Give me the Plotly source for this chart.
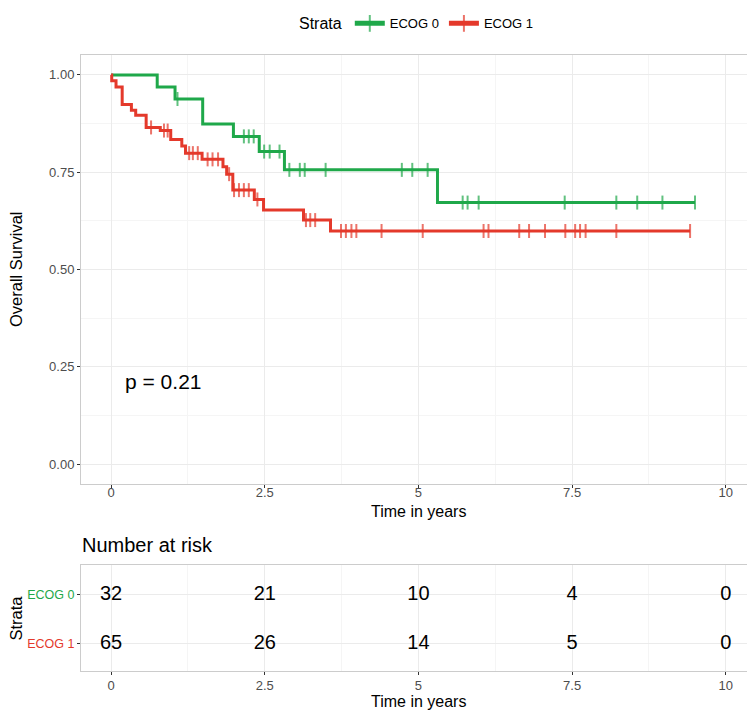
import plotly.graph_objects as go

# Kaplan-Meier curves (time in years, survival after the step)
ecog0_event_times = [0.75, 1.04, 1.49, 1.99, 2.41, 2.82, 5.31]
ecog0_event_surv = [0.969, 0.938, 0.874, 0.842, 0.803, 0.756, 0.672]
ecog0_censor_times = [1.08, 2.16, 2.24, 2.32, 2.49, 2.58, 2.74, 2.90, 3.07, 3.15, 3.49,
                      4.73, 4.90, 5.15, 5.72, 5.80, 5.98, 7.38, 8.22, 8.56, 8.97, 9.50]

ecog1_event_times = [0.01, 0.08, 0.18, 0.33, 0.40, 0.57, 0.80, 0.97, 1.15, 1.21, 1.48,
                     1.82, 1.88, 1.98, 2.33, 2.48, 3.13, 3.57]
ecog1_event_surv = [0.985, 0.969, 0.924, 0.909, 0.896, 0.865, 0.857, 0.834, 0.817, 0.799,
                    0.783, 0.764, 0.745, 0.704, 0.680, 0.653, 0.627, 0.599]
ecog1_censor_times = [0.65, 0.86, 0.92, 1.27, 1.33, 1.41, 1.57, 1.65, 1.74, 1.92, 2.00,
                      2.08, 2.16, 2.24, 2.38, 3.17, 3.24, 3.32, 3.74, 3.82, 3.91, 3.99,
                      4.40, 5.07, 6.06, 6.14, 6.64, 6.80, 7.06, 7.39, 7.55, 7.63, 7.72,
                      8.22, 9.42]

# number at risk table
risk_times = [0, 2.5, 5, 7.5, 10]
risk_ecog0 = [32, 21, 10, 4, 0]
risk_ecog1 = [65, 26, 14, 5, 0]

strata = ["ECOG 0", "ECOG 1"]
colors = ["#1FA84A", "#E4392B"]
p_text = "p = 0.21"

# the page has an 8px body margin, so the figure is drawn 8px in from the window corner
OFF = 8
W, H = 755 - OFF, 712 - OFF
FONT = "Liberation Sans"


def km_points(ev_t, ev_s, cens_t):
    pts = [(0.0, 0, 1.0)] + [(t, 0, s) for t, s in zip(ev_t, ev_s)] + [(t, 1, None) for t in cens_t]
    pts.sort(key=lambda p: (p[0], p[1]))
    xs, ys, sizes = [], [], []
    level = 1.0
    for t, cens, s in pts:
        if not cens:
            level = s
        xs.append(t)
        ys.append(level)
        sizes.append(10 if cens else 0)
    return xs, ys, sizes


def px_x(p):
    return (p - OFF) / W


def px_y(p):
    return 1 - (p - OFF) / H


fig = go.Figure()

curves = [(ecog0_event_times, ecog0_event_surv, ecog0_censor_times),
          (ecog1_event_times, ecog1_event_surv, ecog1_censor_times)]
for name, col, (et, es, ct) in zip(strata, colors, curves):
    xs, ys, sizes = km_points(et, es, ct)
    fig.add_trace(go.Scatter(
        x=xs, y=ys, name=name, mode="lines+markers",
        line=dict(color=col, width=3, shape="hv"),
        marker=dict(symbol="line-ns", size=sizes, color=col, line=dict(color=col, width=2)),
        hoverinfo="skip", xaxis="x", yaxis="y"))

# risk table numbers
for yv, counts in zip([2, 1], [risk_ecog0, risk_ecog1]):
    fig.add_trace(go.Scatter(
        x=risk_times, y=[yv] * len(risk_times), mode="text",
        text=[str(c) for c in counts], textposition="middle center",
        textfont=dict(size=20, color="black", family=FONT),
        showlegend=False, hoverinfo="skip", xaxis="x2", yaxis="y2"))

grid = "#EBEBEB"
minor_grid = "#F5F5F5"
border = "#CCCCCC"
tick_font = dict(size=13, color="#4D4D4D", family=FONT)
common = dict(showline=True, mirror=True, linecolor=border, linewidth=1,
              ticks="outside", ticklen=3, tickcolor="#333333", tickwidth=1,
              gridcolor=grid, gridwidth=1, zeroline=False, tickfont=tick_font,
              automargin=False)

x_dom = [px_x(81), px_x(754)]
x_range = [-0.49, 10.46]

fig.update_layout(
    width=W, height=H,
    margin=dict(l=0, r=0, t=0, b=0),
    paper_bgcolor="white", plot_bgcolor="white",
    font=dict(family=FONT, color="black"),
    xaxis=dict(domain=x_dom, range=x_range, tickvals=risk_times,
               ticktext=["0", "2.5", "5", "7.5", "10"], ticklabelstandoff=-6,
               minor=dict(dtick=1.25, tick0=0, showgrid=True, gridcolor=minor_grid, ticks=""),
               anchor="y", **common),
    yaxis=dict(domain=[px_y(480), px_y(45)], range=[-0.05, 1.05],
               tickvals=[0, 0.25, 0.5, 0.75, 1.0],
               ticktext=["0.00", "0.25", "0.50", "0.75", "1.00"],
               minor=dict(dtick=0.125, tick0=0, showgrid=True, gridcolor=minor_grid, ticks=""),
               anchor="x", **common),
    xaxis2=dict(domain=x_dom, range=x_range, tickvals=risk_times,
                ticktext=["0", "2.5", "5", "7.5", "10"],
                minor=dict(dtick=1.25, tick0=0, showgrid=True, gridcolor=minor_grid, ticks=""),
                anchor="y2", **common),
    yaxis2=dict(domain=[px_y(670), px_y(563)], range=[0.45, 2.6],
                tickvals=[2, 1],
                ticktext=[f'<span style="color:{colors[0]}">{strata[0]}</span>',
                          f'<span style="color:{colors[1]}">{strata[1]}</span>'],
                anchor="x2", **dict(common, tickfont=dict(size=12.5, family=FONT))),
    legend=dict(orientation="h", x=px_x(418), xanchor="center", y=px_y(13), yanchor="middle",
                title=dict(text="Strata", font=dict(size=16, family=FONT)),
                font=dict(size=13, family=FONT), itemsizing="constant", itemwidth=30,
                bgcolor="rgba(0,0,0,0)"),
    showlegend=True,
)

annotations = [
    dict(text="Overall Survival", x=px_x(16), y=px_y(262), textangle=-90, font=dict(size=16.5)),
    dict(text="Time in years", x=px_x(418), y=px_y(508), font=dict(size=16)),
    dict(text="Number at risk", x=px_x(80), y=px_y(542), xanchor="left", font=dict(size=20)),
    dict(text="Strata", x=px_x(16), y=px_y(617), textangle=-90, font=dict(size=16.5)),
    dict(text="Time in years", x=px_x(418), y=px_y(701), font=dict(size=16)),
]
for a in annotations:
    fig.add_annotation(xref="paper", yref="paper", showarrow=False,
                       xanchor=a.pop("xanchor", "center"), yanchor="middle", **a)

fig.add_annotation(text=p_text, x=0.2, y=0.213, xref="x", yref="y", showarrow=False,
                   xanchor="left", yanchor="middle", font=dict(size=21, color="black"))

fig.write_html("out.html")
